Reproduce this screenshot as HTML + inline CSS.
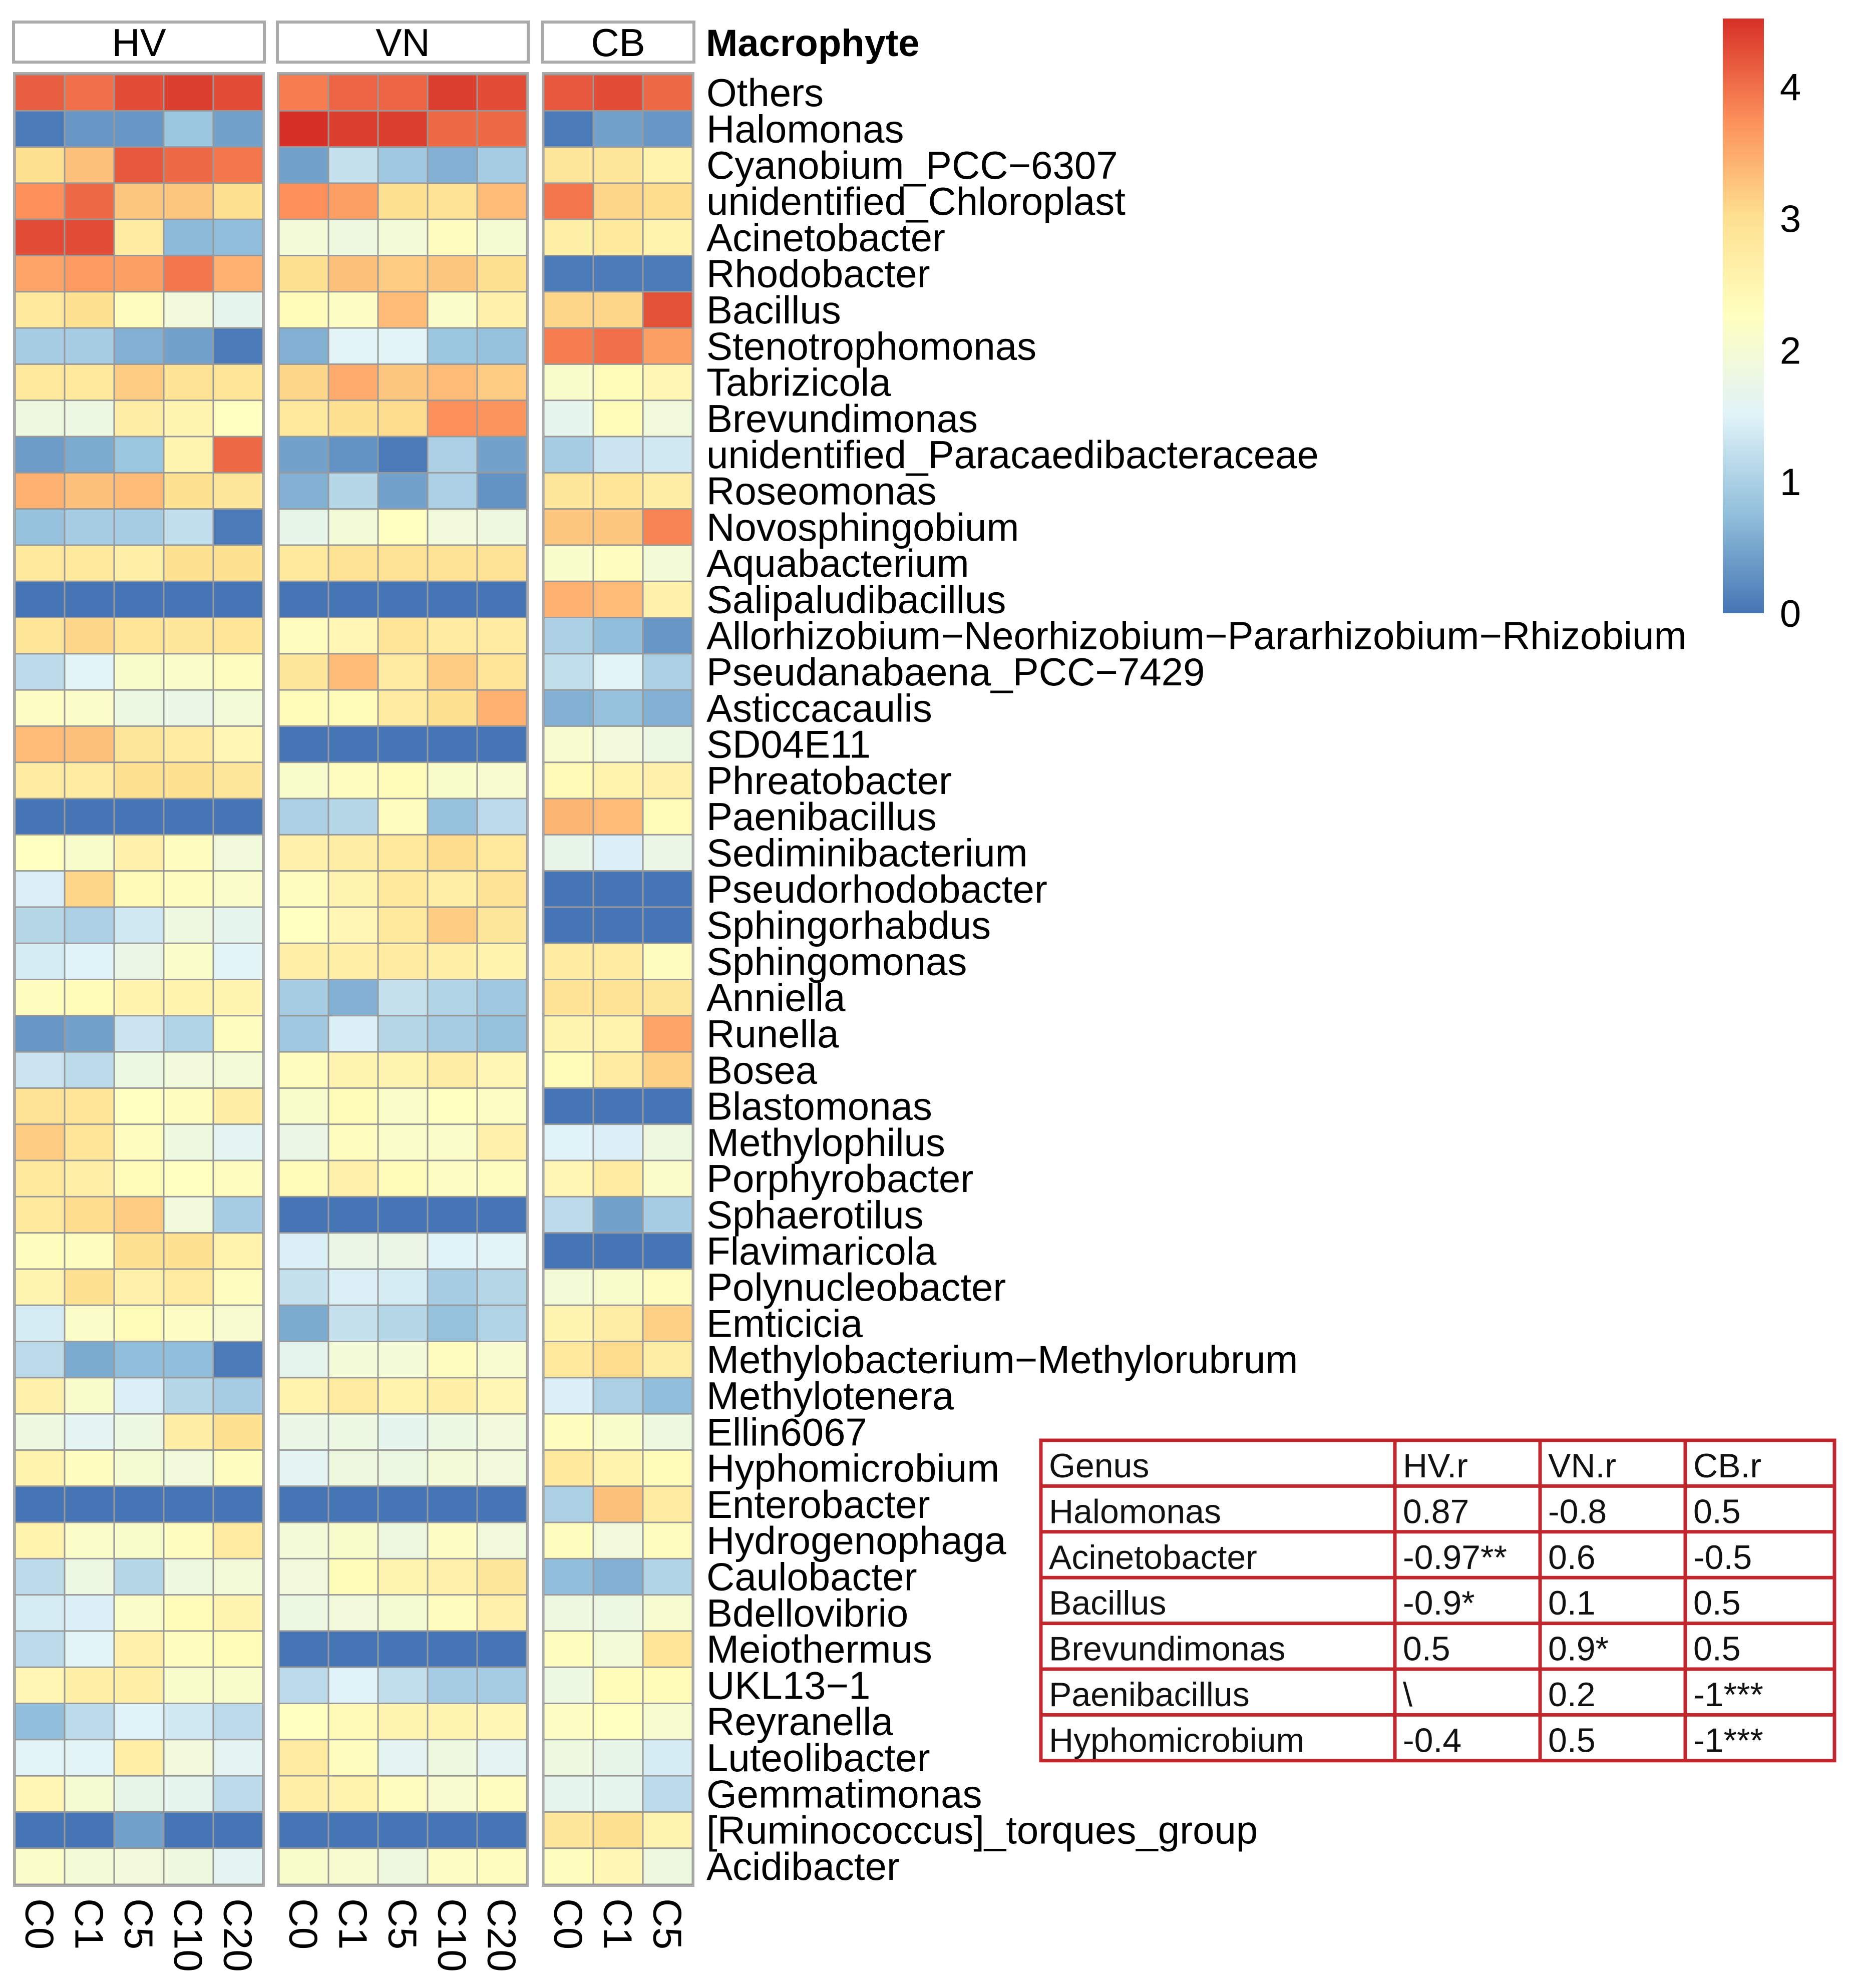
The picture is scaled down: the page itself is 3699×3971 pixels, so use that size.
<!DOCTYPE html>
<html><head><meta charset="utf-8"><style>html,body{margin:0;padding:0;background:#fff}svg{display:block}</style></head>
<body>
<svg id="chart" xmlns="http://www.w3.org/2000/svg" width="3699" height="3971" viewBox="0 0 3699 3971" font-family="'Liberation Sans', Arial, sans-serif">
<rect x="0" y="0" width="3699" height="3971" fill="#fff"/>
<g id="headers"></g><g id="cells"></g><g id="rowlabels"></g><g id="collabels"></g><g id="legend"></g><g id="table"></g>
</svg>
<script>
const genera = ["Others","Halomonas","Cyanobium_PCC\u22126307","unidentified_Chloroplast","Acinetobacter","Rhodobacter","Bacillus","Stenotrophomonas","Tabrizicola","Brevundimonas","unidentified_Paracaedibacteraceae","Roseomonas","Novosphingobium","Aquabacterium","Salipaludibacillus","Allorhizobium\u2212Neorhizobium\u2212Pararhizobium\u2212Rhizobium","Pseudanabaena_PCC\u22127429","Asticcacaulis","SD04E11","Phreatobacter","Paenibacillus","Sediminibacterium","Pseudorhodobacter","Sphingorhabdus","Sphingomonas","Anniella","Runella","Bosea","Blastomonas","Methylophilus","Porphyrobacter","Sphaerotilus","Flavimaricola","Polynucleobacter","Emticicia","Methylobacterium\u2212Methylorubrum","Methylotenera","Ellin6067","Hyphomicrobium","Enterobacter","Hydrogenophaga","Caulobacter","Bdellovibrio","Meiothermus","UKL13\u22121","Reyranella","Luteolibacter","Gemmatimonas","[Ruminococcus]_torques_group","Acidibacter"];
const groups = ["HV","VN","CB"];
const samplesHV = ["C0","C1","C5","C10","C20"];
const samplesVN = ["C0","C1","C5","C10","C20"];
const samplesCB = ["C0","C1","C5"];
const valuesHV = [
[4.15,4.0,4.3,4.4,4.3],[0.05,0.35,0.35,0.85,0.45],[3.0,3.3,4.2,4.05,3.95],[3.75,4.05,3.25,3.25,3.0],[4.3,4.3,2.75,0.7,0.75],
[3.55,3.65,3.6,3.95,3.45],[2.8,3.0,2.3,1.9,1.65],[0.95,0.95,0.6,0.45,0.05],[2.8,2.8,3.2,2.95,2.9],[1.85,1.8,2.7,2.5,2.25],
[0.4,0.55,0.85,2.5,4.05],[3.45,3.3,3.35,3.0,2.85],[0.8,0.95,0.95,1.2,0.05],[2.8,2.8,2.65,3.0,3.0],[0,0,0,0,0],
[2.9,3.1,2.9,2.85,2.9],[1.15,1.55,2.1,2.15,2.3],[2.2,2.15,1.8,1.75,1.95],[3.35,3.3,2.85,2.75,2.45],[2.75,2.75,3.0,3.0,2.85],
[0,0,0,0,0],[2.25,2.1,2.6,2.3,1.9],[1.45,3.1,2.4,2.3,2.15],[1.1,1.0,1.35,1.85,1.65],[1.4,1.5,1.75,2.15,1.55],
[2.3,2.35,2.55,2.55,2.5],[0.35,0.45,1.3,1.05,2.3],[1.3,1.15,1.8,1.9,1.95],[2.95,2.9,2.25,2.3,2.7],[3.2,2.9,2.3,1.85,1.6],
[2.8,2.65,2.35,2.25,2.3],[2.8,3.05,3.2,1.9,0.95],[2.3,2.3,3.0,3.0,2.55],[2.5,3.0,2.6,2.75,2.3],[1.4,2.15,2.35,2.2,2.05],
[1.15,0.55,0.75,0.75,0.05],[2.6,2.1,1.45,1.1,0.95],[1.85,1.6,1.8,2.7,3.0],[2.55,2.3,2.0,1.9,2.3],[0,0,0,0,0],
[2.55,2.15,2.1,2.3,2.75],[1.15,1.8,1.1,1.85,1.95],[1.4,1.45,2.15,2.35,2.5],[1.15,1.55,2.6,2.3,2.35],[2.45,2.65,2.65,2.1,2.1],
[0.75,1.15,1.5,1.35,1.15],[1.55,1.55,2.65,1.9,1.6],[2.45,2.0,1.7,1.65,1.15],[0,0,0.45,0,0],[2.15,1.95,1.9,1.85,1.6]];
const valuesVN = [
[3.9,4.1,4.1,4.4,4.3],[4.52,4.4,4.4,4.05,4.05],[0.45,1.25,0.9,0.6,0.95],[3.75,3.6,3.0,2.95,3.35],[1.95,1.85,1.95,2.3,2.0],
[3.0,3.3,3.2,3.25,3.0],[2.35,2.2,3.35,2.15,2.6],[0.6,1.55,1.55,0.85,0.8],[3.1,3.5,3.25,3.35,3.2],[2.8,3.0,3.05,3.75,3.7],
[0.45,0.3,0.05,1.0,0.45],[0.6,1.1,0.45,1.0,0.3],[1.7,1.95,2.25,1.9,1.85],[2.8,2.95,2.95,2.95,2.95],[0,0,0,0,0],
[2.3,2.45,2.9,2.75,2.75],[2.85,3.35,2.75,3.2,2.9],[2.35,2.35,2.75,3.0,3.45],[0,0,0,0,0],[2.1,2.3,2.35,2.1,2.05],
[1.0,1.1,2.3,0.8,1.15],[2.6,2.7,2.8,3.05,2.8],[2.3,2.5,2.8,2.65,2.95],[2.25,2.45,2.8,3.2,2.85],[2.65,2.65,2.75,2.65,2.55],
[0.95,0.6,1.25,1.05,0.9],[0.9,1.45,1.1,0.95,0.8],[2.3,2.5,2.5,2.7,2.45],[2.1,2.35,2.15,2.25,2.2],[1.75,2.3,2.15,2.15,2.6],
[2.35,2.6,2.35,2.2,2.3],[0,0,0,0,0],[1.45,1.75,1.75,1.5,1.55],[1.25,1.45,1.4,0.95,1.1],[0.55,1.25,1.1,0.8,1.05],
[1.65,1.95,1.95,2.3,2.05],[2.55,2.75,2.55,2.65,2.45],[1.75,1.8,1.65,1.8,1.9],[1.6,1.85,1.8,1.95,1.9],[0,0,0,0,0],
[1.95,2.1,1.85,2.2,1.9],[1.9,2.35,2.5,2.6,2.85],[1.8,1.9,2.0,2.3,2.6],[0,0,0,0,0],[1.15,1.5,1.2,0.95,0.95],
[2.25,2.4,2.5,2.5,2.45],[2.75,2.3,1.6,1.85,1.6],[2.65,2.55,2.3,2.05,2.3],[0,0,0,0,0],[2.1,2.05,1.85,2.2,2.3]];
const valuesCB = [
[4.2,4.3,4.05],[0.05,0.45,0.35],[2.85,2.85,2.55],[3.95,3.1,3.05],[2.65,2.8,2.55],
[0.05,0.05,0.05],[3.1,3.1,4.25],[3.9,4.0,3.6],[2.1,2.35,2.45],[1.65,2.35,1.9],
[0.95,1.3,1.35],[2.85,2.9,2.7],[3.25,3.25,3.85],[2.1,2.3,1.95],[3.45,3.35,2.6],
[1.0,0.75,0.35],[1.2,1.55,1.0],[0.6,0.8,0.6],[2.05,1.9,1.8],[2.4,2.55,2.6],
[3.4,3.35,2.35],[1.7,1.45,1.75],[0,0,0],[0,0,0],[2.75,2.75,2.3],
[2.95,2.95,2.85],[2.5,2.55,3.55],[2.35,2.75,3.15],[0,0,0],[1.5,1.45,1.85],
[2.45,2.75,2.15],[1.15,0.45,0.95],[0,0,0],[1.95,2.1,2.3],[2.5,2.7,3.15],
[2.8,3.05,2.7],[1.45,1.0,0.75],[2.3,2.1,1.85],[2.8,2.55,2.35],[1.0,3.3,2.75],
[2.3,1.9,2.3],[0.75,0.6,1.05],[1.85,1.8,2.05],[2.3,1.95,2.9],[1.8,2.35,2.35],
[2.2,2.25,2.05],[1.85,1.7,1.4],[1.65,1.65,1.15],[2.85,3.0,2.5],[2.3,2.45,1.85]];
const legendTicks = [0,1,2,3,4];
const tableHeader = ["Genus","HV.r","VN.r","CB.r"];
const tableGenus = ["Halomonas","Acinetobacter","Bacillus","Brevundimonas","Paenibacillus","Hyphomicrobium"];
const tableHV = ["0.87","-0.97**","-0.9*","0.5","\\","-0.4"];
const tableVN = ["-0.8","0.6","0.1","0.9*","0.2","0.5"];
const tableCB = ["0.5","-0.5","0.5","0.5","-1***","-1***"];

const NS="http://www.w3.org/2000/svg";
const VMIN=0, VMAX=4.52;
const stops=["#4575B4","#91BFDB","#E0F3F8","#FFFFBF","#FEE090","#FC8D59","#D73027"];
function hex(c){return [1,3,5].map(i=>parseInt(c.substr(i,2),16));}
function colorOf(v){let t=Math.max(0,Math.min(1,(v-VMIN)/(VMAX-VMIN)))*(stops.length-1);let i=Math.min(stops.length-2,Math.floor(t));let f=t-i;let a=hex(stops[i]),b=hex(stops[i+1]);return "rgb("+a.map((x,k)=>Math.round(x+(b[k]-x)*f)).join(",")+")";}
const TOP=149, ROWH=72.3, COLW=99;
function yRow(i){return TOP+i*ROWH;}
const groupX=[30,557,1086];
const groupData=[valuesHV,valuesVN,valuesCB];
const groupSamples=[samplesHV,samplesVN,samplesCB];
function xCol(g,j){return groupX[g]+j*COLW;}
function mk(tag,attrs,parent){const e=document.createElementNS(NS,tag);for(const k in attrs)e.setAttribute(k,attrs[k]);parent.appendChild(e);return e;}

const gh=document.getElementById('headers'), gc=document.getElementById('cells'), gr=document.getElementById('rowlabels'), gcl=document.getElementById('collabels'), gl=document.getElementById('legend'), gt=document.getElementById('table');
groups.forEach((name,g)=>{
  const n=groupSamples[g].length;
  const bx=mk('rect',{x:xCol(g,0)-3,y:44,width:n*COLW+6,height:80,fill:'#fff',stroke:'#aaa','stroke-width':6},gh);
  
  
  const t=mk('text',{x:xCol(g,0)+n*COLW/2,y:112,'font-size':78,'text-anchor':'middle',fill:'#000'},gh);
  t.textContent=name;
  
  
  const fr=mk('rect',{x:xCol(g,0)-2,y:TOP-3,width:n*COLW+4,height:genera.length*ROWH+6,fill:'#999',stroke:'#aaa','stroke-width':4},gc);
  
  
  groupData[g].forEach((row,i)=>{row.forEach((v,j)=>{
    const r=mk('rect',{x:xCol(g,j)+1.5,y:yRow(i)+1.5,width:COLW-3,height:ROWH-3,fill:colorOf(v)},gc);
    
    
  });});
  groupSamples[g].forEach((s,j)=>{
    const cx=xCol(g,j)+COLW/2;
    const t2=mk('text',{transform:'translate('+(cx-28)+',3792) rotate(90)','font-size':80,fill:'#000'},gcl);
    t2.textContent=s;
    
    
  });
});
const mt=mk('text',{x:1410,y:112,'font-size':76,'font-weight':'bold',fill:'#000'},gh);
mt.textContent='Macrophyte';


genera.forEach((g,i)=>{
  const t=mk('text',{x:1411,y:yRow(i)+ROWH/2+27,'font-size':78,fill:'#000'},gr);
  t.textContent=g;
  
  
});
// legend
const defs=mk('defs',{},gl);
const lg=mk('linearGradient',{id:'lgrad',x1:0,y1:1,x2:0,y2:0},defs);
stops.forEach((c,k)=>mk('stop',{offset:(k/(stops.length-1)),'stop-color':c},lg));
const LTOP=37, LBOT=1225;
function yLeg(v){return LBOT-(v-VMIN)/(VMAX-VMIN)*(LBOT-LTOP);}
const lb=mk('rect',{x:3441,y:LTOP,width:82,height:LBOT-LTOP,fill:'url(#lgrad)'},gl);


legendTicks.forEach(v=>{
  const t=mk('text',{x:3576,y:yLeg(v)+27,'font-size':76,'text-anchor':'middle',fill:'#000'},gl);
  t.textContent=String(v);
  
  
});
// table
const TX=[2079,2786,3076,3366,3664], TY0=2877, TRH=91.4;
const tbg=mk('rect',{x:TX[0],y:TY0,width:TX[4]-TX[0],height:TRH*7,fill:'#fff',stroke:'#c1272d','stroke-width':7},gt);


for(let r=1;r<7;r++) mk('line',{x1:TX[0],x2:TX[4],y1:TY0+r*TRH,y2:TY0+r*TRH,stroke:'#c1272d','stroke-width':7},gt);
for(let c=1;c<4;c++) mk('line',{x1:TX[c],x2:TX[c],y1:TY0,y2:TY0+7*TRH,stroke:'#c1272d','stroke-width':7},gt);
const cols=[tableGenus,tableHV,tableVN,tableCB];
for(let r=0;r<7;r++){for(let c=0;c<4;c++){
  const txt = r===0 ? tableHeader[c] : cols[c][r-1];
  const t=mk('text',{x:TX[c]+16,y:TY0+r*TRH+74,'font-size':68,fill:'#111'},gt);
  t.textContent=txt;
  
  
}}
</script>
</body></html>
